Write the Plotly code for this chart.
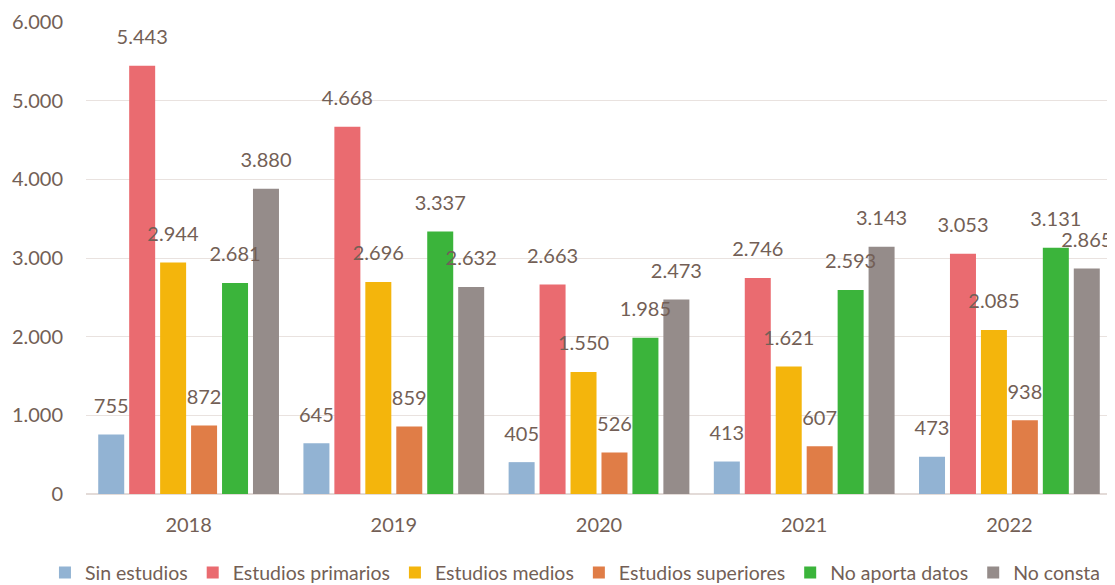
import plotly.graph_objects as go

years = ["2018", "2019", "2020", "2021", "2022"]
series_names = ["Sin estudios", "Estudios primarios", "Estudios medios",
                "Estudios superiores", "No aporta datos", "No consta"]
sin_estudios = [755, 645, 405, 413, 473]
estudios_primarios = [5443, 4668, 2663, 2746, 3053]
estudios_medios = [2944, 2696, 1550, 1621, 2085]
estudios_superiores = [872, 859, 526, 607, 938]
no_aporta_datos = [2681, 3337, 1985, 2593, 3131]
no_consta = [3880, 2632, 2473, 3143, 2865]

series_values = [sin_estudios, estudios_primarios, estudios_medios,
                 estudios_superiores, no_aporta_datos, no_consta]
colors = ["#92B3D3", "#EA6B70", "#F4B50C", "#E07D47", "#3BB43B", "#958C8A"]

text_color = "#735F56"
font_family = "Lato"

fig = go.Figure()
# solid bars
for name, vals, col in zip(series_names, series_values, colors):
    fig.add_trace(go.Bar(
        name=name, x=years, y=vals, offsetgroup=name,
        marker=dict(color=col, line=dict(width=0)),
        hoverinfo="x+y+name",
    ))
# value labels drawn on top of every bar (same slots, transparent bars)
for name, vals in zip(series_names, series_values):
    fig.add_trace(go.Bar(
        name=name, x=years, y=vals, offsetgroup=name,
        marker=dict(color="rgba(0,0,0,0)", line=dict(width=0)),
        texttemplate="<span style='font-size:20px'>%{y:,}</span><br> ",
        textposition="outside",
        textfont=dict(family=font_family, size=12, color=text_color),
        constraintext="none",
        cliponaxis=False,
        showlegend=False, hoverinfo="skip",
    ))

# page body has an 8px margin, so the figure is sized/offset to compensate
fig.update_layout(
    width=1107, height=585,
    barmode="group", bargap=0.095, bargroupgap=0.16,
    separators=",.",
    paper_bgcolor="white", plot_bgcolor="white",
    margin=dict(l=78, r=3, t=14, b=99, autoexpand=False),
    font=dict(family=font_family, size=20, color=text_color),
    legend=dict(orientation="h", x=-0.04, xanchor="left", y=-0.167,
                yanchor="middle", font=dict(size=19.5, color=text_color),
                itemwidth=30, traceorder="normal"),
    showlegend=True,
)
fig.update_yaxes(range=[0, 6000], dtick=1000, tickformat=",",
                 showgrid=True, gridcolor="#E9E2DF", gridwidth=1.3,
                 zeroline=True, zerolinecolor="#E3DBD8", zerolinewidth=1.5,
                 showline=False, ticks="", ticklabelstandoff=22,
                 tickfont=dict(size=20, color=text_color))
fig.update_xaxes(showgrid=False, showline=False, ticks="",
                 ticklabelstandoff=17,
                 tickfont=dict(size=20, color=text_color))

fig.write_html("out.html")
